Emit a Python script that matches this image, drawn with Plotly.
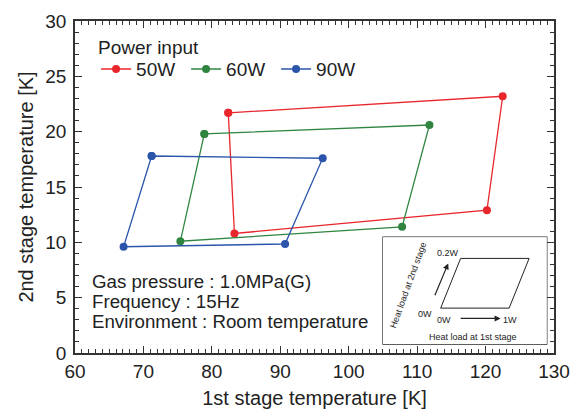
import plotly.graph_objects as go

# ---- data ----
series_names = ["50W", "60W", "90W"]
series_colors = ["#e8262c", "#2f8540", "#2a55aa"]
x_50 = [82.4, 122.5, 120.2, 83.3, 82.4]
y_50 = [21.7, 23.2, 12.9, 10.8, 21.7]
x_60 = [78.9, 111.8, 107.8, 75.4, 78.9]
y_60 = [19.8, 20.6, 11.4, 10.1, 19.8]
x_90 = [71.2, 96.2, 90.7, 67.1, 71.2]
y_90 = [17.8, 17.6, 9.85, 9.6, 17.8]

legend_title = "Power input"
notes = ["Gas pressure : 1.0MPa(G)", "Frequency : 15Hz", "Environment : Room temperature"]

# inset schematic (unit coordinates in inset box)
inset_x = [0.352, 0.770, 0.892, 0.474, 0.352]
inset_y = [0.336, 0.336, 0.801, 0.801, 0.336]

FONT = "Liberation Sans, Arial, sans-serif"
TXT = "#222222"

fig = go.Figure()
for name, col, xs, ys in zip(series_names, series_colors, [x_50, x_60, x_90], [y_50, y_60, y_90]):
    fig.add_trace(go.Scatter(x=xs, y=ys, mode="lines+markers", name=name,
                             line=dict(color=col, width=1.3),
                             marker=dict(color=col, size=8)))

fig.add_trace(go.Scatter(x=inset_x, y=inset_y, mode="lines", xaxis="x2", yaxis="y2",
                         line=dict(color=TXT, width=1), showlegend=False, hoverinfo="skip"))

axis_common = dict(showline=True, linecolor="#333333", linewidth=1.5, mirror="ticks",
                   ticks="inside", ticklen=7, tickwidth=1.2, tickcolor="#333333",
                   showgrid=False, zeroline=False, automargin=False,
                   tickfont=dict(family=FONT, size=19, color=TXT))

fig.update_layout(
    width=573, height=409,
    margin=dict(l=75, r=19, t=21, b=56),
    paper_bgcolor="white", plot_bgcolor="white",
    font=dict(family=FONT, color=TXT),
    xaxis=dict(range=[60, 130], dtick=10, tick0=60,
               minor=dict(dtick=1, ticks="inside", ticklen=4, tickcolor="#333333", tickwidth=1),
               title=dict(text="1st stage temperature [K]", font=dict(family=FONT, size=20), standoff=10),
               **axis_common),
    yaxis=dict(range=[0, 30], dtick=5, tick0=0,
               minor=dict(dtick=1, ticks="inside", ticklen=4, tickcolor="#333333", tickwidth=1),
               title=dict(text="2nd stage temperature [K]", font=dict(family=FONT, size=20), standoff=6),
               ticklabelstandoff=3,
               **axis_common),
    xaxis2=dict(domain=[0.643, 0.985], range=[0, 1], anchor="y2", visible=False, fixedrange=True),
    yaxis2=dict(domain=[0.027, 0.349], range=[0, 1], anchor="x2", visible=False, fixedrange=True),
    legend=dict(orientation="h", x=0.044, y=0.855, xanchor="left", yanchor="middle",
                bgcolor="rgba(0,0,0,0)",
                font=dict(family=FONT, size=19, color=TXT), entrywidth=45, entrywidthmode="pixels",
                itemwidth=30, tracegroupgap=0),
    showlegend=True,
)

fig.add_annotation(xref="paper", yref="paper", x=0.044, y=0.919, xanchor="left", yanchor="middle",
                   text=legend_title, showarrow=False, font=dict(family=FONT, size=19, color=TXT))

# inset box
fig.add_shape(type="rect", xref="x2 domain", yref="y2 domain", x0=0, x1=1, y0=0, y1=1,
              line=dict(color=TXT, width=1.2), fillcolor="white", layer="below")

# inset arrows
fig.add_annotation(xref="x2", yref="y2", axref="x2", ayref="y2", x=0.398, y=0.754, ax=0.313, ay=0.442,
                   showarrow=True, arrowhead=2, arrowsize=1, arrowwidth=1.2, arrowcolor=TXT, text="")
fig.add_annotation(xref="x2", yref="y2", axref="x2", ayref="y2", x=0.718, y=0.240, ax=0.465, ay=0.240,
                   showarrow=True, arrowhead=2, arrowsize=1, arrowwidth=1.2, arrowcolor=TXT, text="")

inset_labels = [("0.2W", 0.396, 0.853, 0), ("0W", 0.256, 0.277, 0), ("0W", 0.372, 0.224, 0),
                ("1W", 0.774, 0.224, 0), ("Heat load at 1st stage", 0.551, 0.068, 0),
                ("Heat load at 2nd stage", 0.155, 0.551, -70)]
for t, lx, ly, ang in inset_labels:
    fig.add_annotation(xref="x2", yref="y2", x=lx, y=ly, text=t, showarrow=False, textangle=ang,
                       font=dict(family=FONT, size=9, color=TXT))

for i, t in enumerate(notes):
    fig.add_annotation(xref="paper", yref="paper", x=0.032, y=0.214 - i * 0.06, xanchor="left", yanchor="middle",
                       text=t, showarrow=False, font=dict(family=FONT, size=18.7, color=TXT))

fig.write_html("out.html")
